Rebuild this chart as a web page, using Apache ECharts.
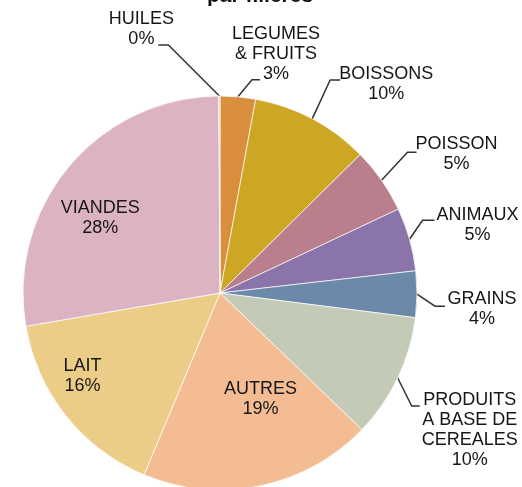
<!DOCTYPE html>
<html>
<head>
<meta charset="utf-8">
<script src="https://cdn.jsdelivr.net/npm/echarts@6/dist/echarts.min.js"></script>
<style>
html, body { margin: 0; padding: 0; background: #fff; }
#chart { width: 522px; height: 487px; }
</style>
</head>
<body>
<div id="chart"></div>
<script>
// slices clockwise from 12 o'clock (HUILES is ~0, sits just left of the top)
const categories = ['LEGUMES\n& FRUITS', 'BOISSONS', 'POISSON', 'ANIMAUX', 'GRAINS', 'PRODUITS\nA BASE DE\nCEREALES', 'AUTRES', 'LAIT', 'VIANDES', 'HUILES']
const values = [2.9, 9.7, 5.4, 5.2, 3.8, 10.2, 19.1, 16.0, 27.6, 0.1]
const colors = ['#DA8F3F', '#CDA623', '#B97F8D', '#8A74A9', '#6C89AA', '#C3CAB5', '#F4BC92', '#ECCD88', '#DBB3C3', '#E9C98E']

// leader line bend / text placement, relative to the slice edge point
const outsideLabels = {
  'LEGUMES\n& FRUITS': { elbow: [14, -17], len2: 8, textX: 16, textY: -26 },
  'BOISSONS': { elbow: [18, -39], len2: 10, textX: 46, textY: 4 },
  'POISSON': { elbow: [26, -28], len2: 9, textX: 40, textY: 2 },
  'ANIMAUX': { elbow: [13, -19], len2: 12, textX: 43, textY: 5 },
  'GRAINS': { elbow: [18, 12], len2: 10, textX: 37, textY: 3 },
  'PRODUITS\nA BASE DE\nCEREALES': { elbow: [14, 28], len2: 8, textX: 50, textY: 24 },
  'HUILES': { elbow: [-51, -51], len2: -10, textX: -17, textY: -16 }
}
const insideLabels = {
  'AUTRES': [20, 7],
  'LAIT': [-58, 20],
  'VIANDES': [-42, -10]
}

const myChart = echarts.init(document.getElementById('chart'))

const seriesData = categories.map((name, i) => {
  const item = { name: name, value: values[i], itemStyle: { color: colors[i] } }
  if (insideLabels[name]) {
    item.label = { position: 'inside' }
    item.labelLine = { show: false }
  }
  return item
})

const option = {
  animation: false,
  title: {
    text: 'par filières',
    left: 255,
    top: -19,
    textAlign: 'center',
    textStyle: {
      fontFamily: 'Liberation Sans',
      fontSize: 21,
      fontWeight: 'bold',
      color: '#111'
    }
  },
  series: [
    {
      type: 'pie',
      center: [220, 293],
      radius: 197,
      startAngle: 90,
      clockwise: true,
      avoidLabelOverlap: false,
      itemStyle: {
        borderColor: 'rgba(255,255,255,0.7)',
        borderWidth: 1
      },
      label: {
        show: true,
        position: 'outside',
        fontFamily: 'Liberation Sans',
        fontSize: 18,
        lineHeight: 20,
        color: '#161616',
        formatter: p => p.name + '\n' + Math.round(p.percent) + '%'
      },
      labelLine: {
        show: true,
        length: 20,
        length2: 10,
        lineStyle: { color: '#333', width: 1.5 }
      },
      labelLayout: function (params) {
        const name = categories[params.dataIndex]
        const o = outsideLabels[name]
        if (o && params.labelLinePoints) {
          const p0 = params.labelLinePoints[0]
          const p1 = [p0[0] + o.elbow[0], p0[1] + o.elbow[1]]
          const p2 = [p1[0] + o.len2, p1[1]]
          return {
            x: p2[0] + o.textX,
            y: p2[1] + o.textY,
            align: 'center',
            verticalAlign: 'middle',
            labelLinePoints: [p0, p1, p2]
          }
        }
        const d = insideLabels[name]
        if (d) {
          return { dx: d[0], dy: d[1] }
        }
      },
      data: seriesData
    }
  ]
}

myChart.setOption(option)
</script>
</body>
</html>
